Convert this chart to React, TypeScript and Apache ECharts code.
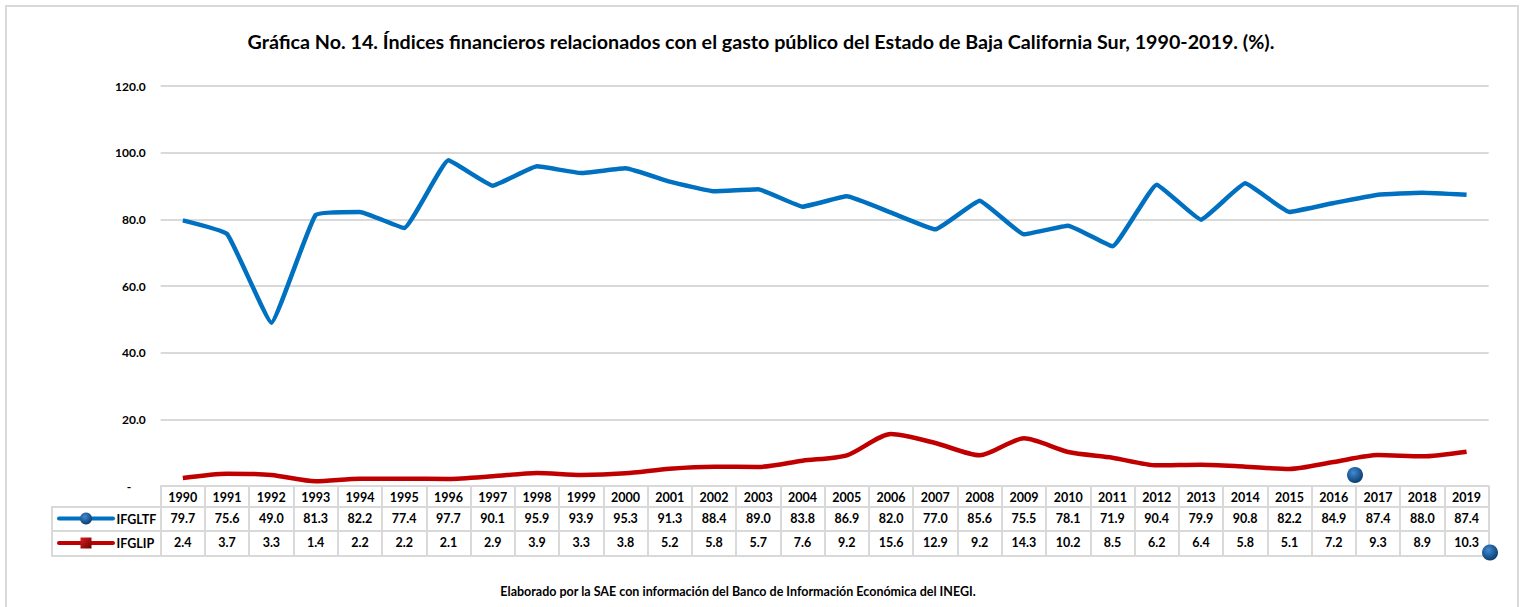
import React, { useEffect, useRef } from "react";
import * as echarts from "echarts";

const years = ["1990","1991","1992","1993","1994","1995","1996","1997","1998","1999","2000","2001","2002","2003","2004","2005","2006","2007","2008","2009","2010","2011","2012","2013","2014","2015","2016","2017","2018","2019"];
const ifgltf = [79.7,75.6,49.0,81.3,82.2,77.4,97.7,90.1,95.9,93.9,95.3,91.3,88.4,89.0,83.8,86.9,82.0,77.0,85.6,75.5,78.1,71.9,90.4,79.9,90.8,82.2,84.9,87.4,88.0,87.4];
const ifglip = [2.4,3.7,3.3,1.4,2.2,2.2,2.1,2.9,3.9,3.3,3.8,5.2,5.8,5.7,7.6,9.2,15.6,12.9,9.2,14.3,10.2,8.5,6.2,6.4,5.8,5.1,7.2,9.3,8.9,10.3];
const seriesNames = ["IFGLTF", "IFGLIP"];
const titleText = "Gráfica No. 14. Índices financieros relacionados con el gasto público del Estado de Baja California Sur, 1990-2019. (%).";
const footerText = "Elaborado por la SAE con información del Banco de Información Económica del INEGI.";

const FONT = "Lato, 'Open Sans', sans-serif";
const BORDER = "#d9d9d9";
const BLUE = "#0070C0";
const RED = "#C00000";

export default function App() {
  const ref = useRef<HTMLDivElement>(null);
  useEffect(() => {
    if (!ref.current) return;
    const chart = echarts.init(ref.current, undefined, { renderer: "svg" });
    const gridLeft = 160.7;
    const gridRight = 33.3;
    const gridTop = 86;
    const gridBottom = 121;
    const baseLabel = { fontFamily: FONT, fontWeight: "bold" as const, fontSize: 12.5, color: "#000" };
    const tableAxis = (data: string[], offset: number, tickLen: number, show = true) => ({
      type: "category" as const,
      position: "bottom" as const,
      offset,
      data,
      boundaryGap: true,
      axisLine: { show: true, lineStyle: { color: BORDER, width: 2 } },
      axisTick: { show, length: tickLen, interval: 0, lineStyle: { color: BORDER, width: 2 } },
      axisLabel: { show, interval: 0, margin: 5, ...baseLabel },
      splitLine: { show: false },
    });
    const sphere = () =>
      new echarts.graphic.RadialGradient(0.4, 0.35, 0.7, [
        { offset: 0, color: "#3d8bd6" },
        { offset: 1, color: "#0a3866" },
      ]);
    chart.setOption({
      animation: false,
      backgroundColor: "#fff",
      title: {
        text: titleText,
        left: "center",
        top: 26,
        textStyle: { fontFamily: FONT, fontWeight: "bold", fontSize: 19.7, color: "#000" },
      },
      grid: { left: gridLeft, right: gridRight, top: gridTop, bottom: gridBottom, containLabel: false },
      xAxis: [
        tableAxis(years, 0, 21),
        tableAxis(ifgltf.map((v) => v.toFixed(1)), 21, 24),
        tableAxis(ifglip.map((v) => v.toFixed(1)), 45, 25),
        tableAxis(years.map(() => ""), 70, 0, false),
      ],
      yAxis: {
        type: "value",
        min: 0,
        max: 120,
        interval: 20,
        axisLine: { show: false },
        axisTick: { show: false },
        axisLabel: {
          ...baseLabel,
          fontSize: 12,
          margin: 15,
          formatter: (v: number) => (v === 0 ? "-     " : v.toFixed(1)),
        },
        splitLine: { lineStyle: { color: BORDER, width: 2 } },
      },
      series: [
        {
          name: seriesNames[0],
          type: "line",
          data: ifgltf,
          smooth: 0.1,
          showSymbol: false,
          symbol: "none",
          lineStyle: { color: BLUE, width: 4.5 },
          itemStyle: { color: BLUE },
        },
        {
          name: seriesNames[1],
          type: "line",
          data: ifglip,
          smooth: 0.25,
          showSymbol: false,
          symbol: "none",
          lineStyle: { color: RED, width: 4.5 },
          itemStyle: { color: RED },
        },
      ],
      graphic: [
        { type: "rect", silent: true, z: 1, shape: { x: 6, y: 6, width: 1512, height: 640 }, style: { fill: "none", stroke: BORDER, lineWidth: 2 } },
        // legend cells
        { type: "line", z: 1, shape: { x1: 52, y1: 507, x2: 161, y2: 507 }, style: { stroke: BORDER, lineWidth: 2 } },
        { type: "line", z: 1, shape: { x1: 52, y1: 531, x2: 161, y2: 531 }, style: { stroke: BORDER, lineWidth: 2 } },
        { type: "line", z: 1, shape: { x1: 52, y1: 556, x2: 161, y2: 556 }, style: { stroke: BORDER, lineWidth: 2 } },
        { type: "line", z: 1, shape: { x1: 52, y1: 506, x2: 52, y2: 557 }, style: { stroke: BORDER, lineWidth: 2 } },
        // legend IFGLTF
        { type: "line", z: 5, shape: { x1: 59, y1: 518.5, x2: 113, y2: 518.5 }, style: { stroke: BLUE, lineWidth: 4, lineCap: "round" } },
        { type: "circle", z: 6, shape: { cx: 86, cy: 518.5, r: 6 }, style: { fill: sphere() } },
        { type: "text", z: 5, x: 116.5, y: 519, style: { text: seriesNames[0], fontFamily: FONT, fontWeight: "bold", fontSize: 12.5, fill: "#000", verticalAlign: "middle", align: "left" } },
        // legend IFGLIP
        { type: "line", z: 5, shape: { x1: 59, y1: 543, x2: 113, y2: 543 }, style: { stroke: RED, lineWidth: 4, lineCap: "round" } },
        { type: "rect", z: 6, shape: { x: 80.5, y: 537.5, width: 11, height: 11 }, style: { fill: new echarts.graphic.LinearGradient(0, 0, 1, 1, [{ offset: 0, color: "#d61f1f" }, { offset: 1, color: "#6e0000" }]) } },
        { type: "text", z: 5, x: 116.5, y: 543, style: { text: seriesNames[1], fontFamily: FONT, fontWeight: "bold", fontSize: 12.5, fill: "#000", verticalAlign: "middle", align: "left" } },
        // stray marker spheres seen in the reference
        { type: "circle", z: 20, shape: { cx: 1355, cy: 475, r: 8 }, style: { fill: sphere() } },
        { type: "circle", z: 20, shape: { cx: 1490, cy: 552.5, r: 8 }, style: { fill: sphere() } },
        // footer
        { type: "text", z: 5, x: 738, y: 591, style: { text: footerText, fontFamily: FONT, fontWeight: "bold", fontSize: 12.5, fill: "#000", align: "center", verticalAlign: "middle" } },
      ],
    });
    return () => chart.dispose();
  }, []);
  return <div ref={ref} style={{ position: "absolute", left: 0, top: 0, width: 1522, height: 607 }} />;
}
